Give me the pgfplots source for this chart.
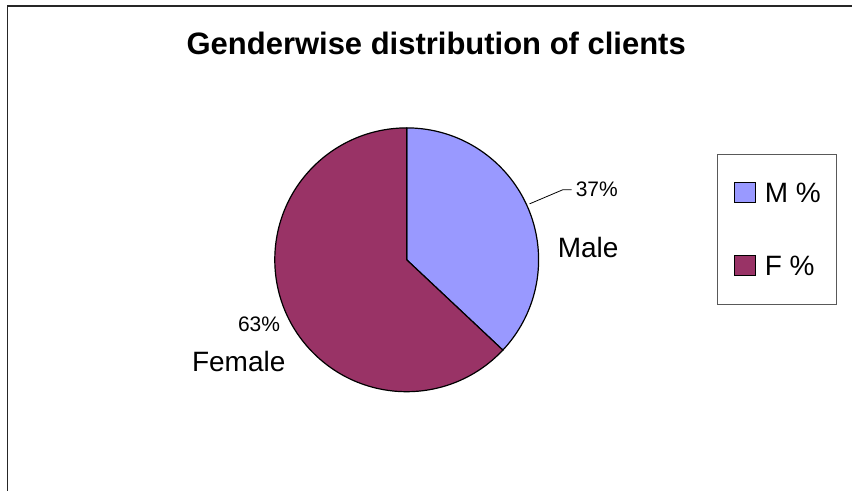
\documentclass[border=0pt]{standalone}
\usepackage{pgfplots}
\usepackage{pgfplotstable}
\pgfplotsset{compat=1.18}
\usepackage{fontspec}
\setmainfont{Liberation Sans}

\definecolor{malecol}{HTML}{9999FF}
\definecolor{femalecol}{HTML}{993366}

% share of clients, percent
\pgfplotstableread{
gender share
M 37
F 63
}\genderdata

\begin{document}
\begin{tikzpicture}
\pgfplotstablegetelem{0}{share}\of\genderdata
\pgfmathsetmacro\shareM{\pgfplotsretval}
\pgfplotstablegetelem{1}{share}\of\genderdata
\pgfmathsetmacro\shareF{\pgfplotsretval}
% slices run clockwise from 12 o'clock
\pgfmathsetmacro\angM{90-3.6*\shareM}
\pgfmathsetmacro\angF{\angM-3.6*\shareF}
\begin{axis}[
    scale only axis,
    width=853pt, height=491pt,
    xmin=0, xmax=853, ymin=0, ymax=491,
    hide axis, clip=false,
    legend cell align=left,
    legend image code/.code={\draw[#1] (0pt,-10pt) rectangle (21pt,10pt);},
    legend style={
        at={(axis cs:718,337)}, anchor=north west,
        draw=black!65, line width=0.9pt,
        inner xsep=16pt, inner ysep=28pt,
        row sep=52pt, column sep=9pt,
        font=\fontsize{28}{28}\selectfont,
        nodes={inner sep=0pt, text height=20pt, text depth=0pt},
    },
]
\path (axis cs:0,0) rectangle (axis cs:853,491);

% outer frame (only left and top edges are in view)
\draw[line width=1.3pt, black!85] (axis cs:7.5,0) -- (axis cs:7.5,485) -- (axis cs:853,485);

% pie, centre (407,231), radius 132
\filldraw[fill=malecol, draw=black, line width=1.2pt]
    (axis cs:407,231) -- ++(90:132pt) arc[start angle=90, end angle=\angM, radius=132pt] -- cycle;
\filldraw[fill=femalecol, draw=black, line width=1.2pt]
    (axis cs:407,231) -- ++(\angM:132pt) arc[start angle=\angM, end angle=\angF, radius=132pt] -- cycle;

\addlegendimage{draw=black, fill=malecol, line width=1pt}
\addlegendentry{M \%}
\addlegendimage{draw=black, fill=femalecol, line width=1pt}
\addlegendentry{F \%}

% data labels
\draw[line width=0.8pt] (axis cs:530,287) -- (axis cs:563,301) -- (axis cs:572,301);
\node[anchor=base west, inner sep=0pt, font=\fontsize{21}{21}\selectfont] at (axis cs:576,294) {37\%};
\node[anchor=base west, inner sep=0pt, font=\fontsize{28}{28}\selectfont] at (axis cs:558,233) {Male};
\node[anchor=base west, inner sep=0pt, font=\fontsize{21}{21}\selectfont] at (axis cs:238,159) {63\%};
\node[anchor=base west, inner sep=0pt, font=\fontsize{28}{28}\selectfont] at (axis cs:192,119) {Female};

% title
\node[anchor=base, inner sep=0pt, font=\bfseries\fontsize{31}{31}\selectfont] at (axis cs:436.5,436) {Genderwise distribution of clients};
\end{axis}
\end{tikzpicture}
\end{document}
